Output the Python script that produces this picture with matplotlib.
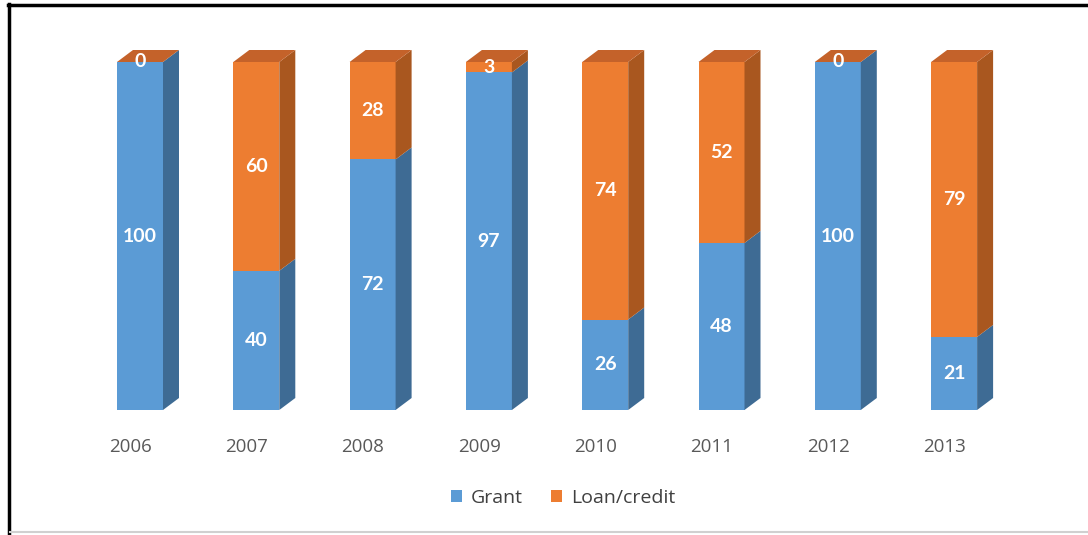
import matplotlib
matplotlib.use("Agg")
import matplotlib.pyplot as plt
from matplotlib.patches import Polygon, Patch
from matplotlib.lines import Line2D

years = ["2006", "2007", "2008", "2009", "2010", "2011", "2012", "2013"]
grant = [100, 40, 72, 97, 26, 48, 100, 21]
loan = [0, 60, 28, 3, 74, 52, 0, 79]

W, H, DPI = 1088, 535, 100
fig = plt.figure(figsize=(W / DPI, H / DPI), dpi=DPI)
fig.patch.set_facecolor("white")

# axes placed so the categories are spaced ~116 px apart and 0..100 spans 348 px
slot_px = 116.3
ax_left_px = 140 - slot_px / 2
ax_bottom_px = H - 410
ax = fig.add_axes([ax_left_px / W, ax_bottom_px / H, 8 * slot_px / W, 348 / H])
ax.set_xlim(-0.5, 7.5)
ax.set_ylim(0, 100)
ax.axis("off")

bar_w = 46 / slot_px          # front face width
dx = 16 / slot_px             # depth offset, horizontal
dy = 12 / 3.48                # depth offset, vertical (in value units)

blue, blue_side, blue_top = "#5B9BD5", "#3E6B94", "#4A84BA"
orange, orange_side, orange_top = "#ED7D31", "#A9571F", "#C4622A"


def box(x0, y0, y1, front, side, top, draw_top):
    x1 = x0 + bar_w
    ax.add_patch(Polygon([(x0, y0), (x1, y0), (x1, y1), (x0, y1)], closed=True,
                         facecolor=front, edgecolor="none", clip_on=False, zorder=2))
    ax.add_patch(Polygon([(x1, y0), (x1 + dx, y0 + dy), (x1 + dx, y1 + dy), (x1, y1)],
                         closed=True, facecolor=side, edgecolor="none", clip_on=False, zorder=2))
    if draw_top:
        ax.add_patch(Polygon([(x0, y1), (x1, y1), (x1 + dx, y1 + dy), (x0 + dx, y1 + dy)],
                             closed=True, facecolor=top, edgecolor="none", clip_on=False, zorder=2))


for i, (g, l) in enumerate(zip(grant, loan)):
    x0 = i - bar_w / 2
    box(x0, 0, g, blue, blue_side, blue_top, False)
    box(x0, g, g + l, orange, orange_side, orange_top, True)
    lab_kw = dict(ha="center", va="center", color="white", fontsize=14,
                  fontweight="bold", family="Lato", zorder=5, clip_on=False)
    ax.text(i, g / 2, str(g), **lab_kw)
    ax.text(i, g + l / 2, str(l), **lab_kw)
    ax.annotate(years[i], xy=(i, 0), xytext=(-7, -20), textcoords="offset points",
                ha="center", va="top", fontsize=13.5, color="#595959", family="Open Sans",
                annotation_clip=False)

handles = [Patch(facecolor=blue, edgecolor="none"), Patch(facecolor=orange, edgecolor="none")]
fig.legend(handles, ["Grant", "Loan/credit"], loc="center",
           bbox_to_anchor=(563 / W, 1 - 498 / H), ncol=2, frameon=False,
           prop={"family": "Open Sans", "size": 14}, labelcolor="#404040",
           handlelength=0.55, handleheight=0.55, handletextpad=0.45, columnspacing=1.5)

# outer frame: heavy black on top and left, light grey at the bottom
fig.add_artist(Line2D([9 / W, 9 / W], [0, 1 - 4 / H], color="black", lw=2.5,
                      transform=fig.transFigure))
fig.add_artist(Line2D([8 / W, 1], [1 - 5 / H, 1 - 5 / H], color="black", lw=2.5,
                      transform=fig.transFigure))
fig.add_artist(Line2D([10 / W, 1], [3 / H, 3 / H], color="#d0d0d0", lw=1.5,
                      transform=fig.transFigure))

fig.savefig("out.png", dpi=DPI, facecolor="white")
